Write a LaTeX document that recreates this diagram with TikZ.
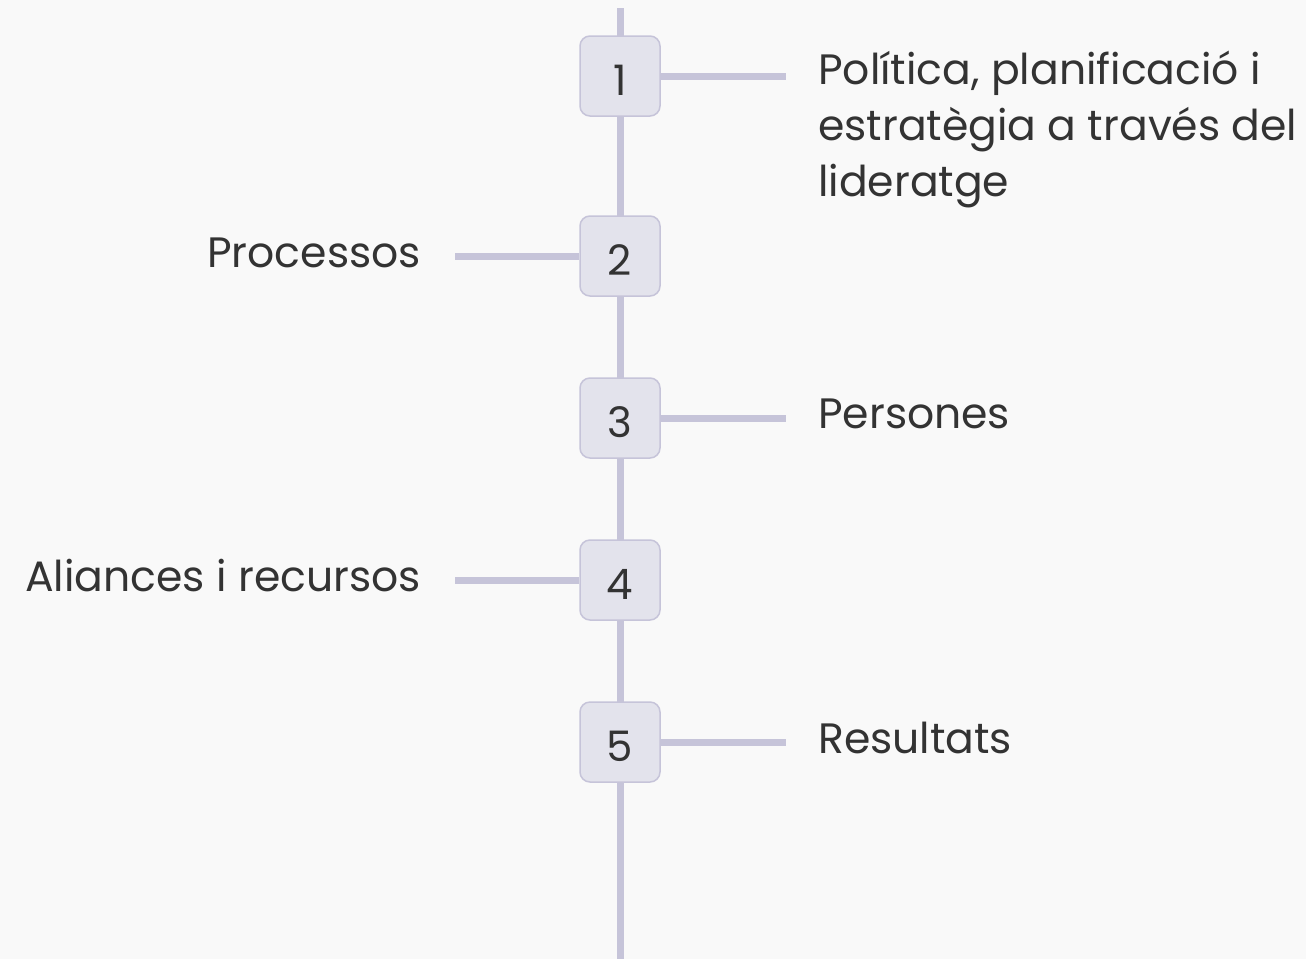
\documentclass[tikz,border=0pt]{standalone}
\usepackage{fontspec}
\setmainfont{Poppins}
\definecolor{bg}{HTML}{F9F9F9}
\definecolor{linec}{HTML}{C6C4D9}
\definecolor{boxfill}{HTML}{E3E3EC}
\definecolor{txt}{HTML}{333333}
\tikzset{
  numbox/.style={draw=linec, line width=1.5pt, fill=boxfill, rounded corners=10pt,
    minimum width=80pt, minimum height=80pt, inner sep=0pt},
  numtxt/.style={text=txt, inner sep=0pt, anchor=base, font=\fontsize{42}{42}\selectfont},
  conn/.style={draw=linec, line width=7pt},
  lbl/.style={text=txt, inner sep=0pt, font=\fontsize{42.5}{56}\selectfont},
}
\begin{document}
\begin{tikzpicture}[x=1pt,y=-1pt]
\fill[bg] (0,0) rectangle (1306,959);
\useasboundingbox (0,0) rectangle (1306,959);
\coordinate (top) at (620,8);
\coordinate (bot) at (620,959);
\draw[conn] (top) -- (bot);
\foreach \n/\y in {1/76,2/256,3/418,4/580,5/742}{
  \node[numbox] (b\n) at (620,\y) {};
  \node[numtxt] (n\n) at (620,\y+19) {\n};
}
\coordinate (e1) at (786,76);
\coordinate (e2) at (455,256);
\coordinate (e3) at (786,418);
\coordinate (e4) at (455,580);
\coordinate (e5) at (786,742);
\draw[conn] (b1.east) -- (e1);
\draw[conn] (b2.west) -- (e2);
\draw[conn] (b3.east) -- (e3);
\draw[conn] (b4.west) -- (e4);
\draw[conn] (b5.east) -- (e5);
\node[lbl, anchor=base west] (t1a) at (818,84) {Política, planificació i};
\node[lbl, anchor=base west] (t1b) at (818,140) {estratègia a través del};
\node[lbl, anchor=base west] (t1c) at (818,196) {lideratge};
\node[lbl, anchor=base east] (t2) at (421,267) {Processos};
\node[lbl, anchor=base west] (t3) at (818,428) {Persones};
\node[lbl, anchor=base east] (t4) at (421,591) {Aliances i recursos};
\node[lbl, anchor=base west] (t5) at (818,753) {Resultats};
\end{tikzpicture}
\end{document}
